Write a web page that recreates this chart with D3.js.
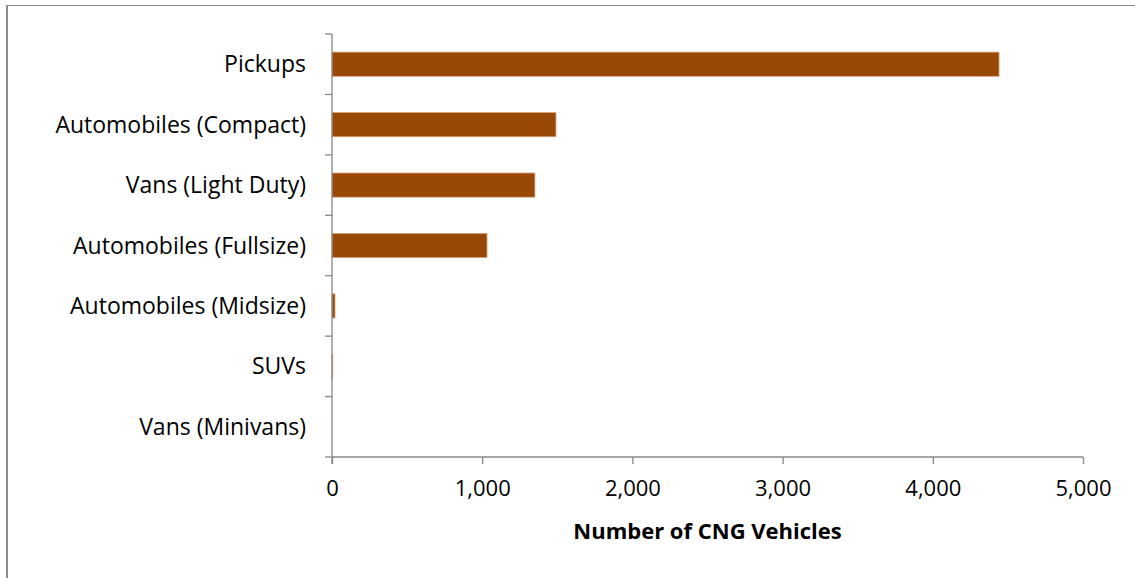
<!DOCTYPE html>
<html>
<head>
<meta charset="utf-8">
<script src="https://cdn.jsdelivr.net/npm/d3@7"></script>
<style>
  body { margin: 0; background: #fff; }
  text { font-family: "Open Sans", sans-serif; }
</style>
</head>
<body>
<div id="chart"></div>
<script>
// data
const categories = ["Pickups", "Automobiles (Compact)", "Vans (Light Duty)", "Automobiles (Fullsize)",
                    "Automobiles (Midsize)", "SUVs", "Vans (Minivans)"];
const vehicles = [4441, 1491, 1351, 1032, 20, 5, 0];
const xTicks = [0, 1000, 2000, 3000, 4000, 5000];

const svgWidth = 1135;
const svgHeight = 578;

const margin = { top: 34, right: 52, bottom: 121, left: 332 };
const chartWidth = svgWidth - margin.left - margin.right;
const chartHeight = svgHeight - margin.top - margin.bottom;

const svg = d3.select("#chart")
  .append("svg")
  .attr("width", svgWidth)
  .attr("height", svgHeight);

// outer frame (only left and top visible in the picture)
svg.append("path")
  .attr("d", `M7,${svgHeight} V5.5 H${svgWidth}`)
  .attr("fill", "none")
  .attr("stroke", "#8c8c8c")
  .attr("stroke-width", 1.2);
svg.append("line")
  .attr("x1", 7).attr("x2", 7).attr("y1", 5).attr("y2", svgHeight)
  .attr("stroke", "#8c8c8c").attr("stroke-width", 2);

const chartGroup = svg.append("g")
  .attr("transform", `translate(${margin.left},${margin.top})`);

const xScale = d3.scaleLinear()
  .domain([0, 5000])
  .range([0, chartWidth]);

const yScale = d3.scaleBand()
  .domain(categories)
  .range([0, chartHeight])
  .paddingInner(0.6)
  .paddingOuter(0.3);

// bars
chartGroup.append("g")
  .selectAll("rect")
  .data(vehicles)
  .enter()
  .append("rect")
  .attr("x", 0)
  .attr("y", (d, i) => yScale(categories[i]))
  .attr("width", d => xScale(d))
  .attr("height", yScale.bandwidth())
  .attr("fill", "#984807")
  .attr("stroke", d => d > 0 ? "#d8a27a" : "none")
  .attr("stroke-width", 0.8);

// x axis
const bottomAxis = d3.axisBottom(xScale)
  .tickValues(xTicks)
  .tickFormat(d3.format(","))
  .tickSize(7)
  .tickPadding(16);

const xAxisG = chartGroup.append("g")
  .attr("transform", `translate(0, ${chartHeight})`)
  .call(bottomAxis);
xAxisG.select(".domain").attr("stroke", "#868686").attr("stroke-width", 1.3)
  .attr("d", `M0,0H${chartWidth}`);
xAxisG.selectAll(".tick line").attr("stroke", "#868686").attr("stroke-width", 1.3);
xAxisG.selectAll(".tick text")
  .attr("font-size", "22px")
  .attr("fill", "#000")
  .style("font-family", "'Open Sans', sans-serif");

// y axis: ticks sit on band boundaries
const leftAxisG = chartGroup.append("g");
leftAxisG.append("line")
  .attr("x1", 0).attr("x2", 0).attr("y1", 0).attr("y2", chartHeight + 7)
  .attr("stroke", "#868686").attr("stroke-width", 1.3);
leftAxisG.selectAll("line.tick")
  .data(d3.range(categories.length + 1))
  .enter()
  .append("line")
  .attr("class", "tick")
  .attr("x1", -7).attr("x2", 0)
  .attr("y1", i => i * chartHeight / categories.length)
  .attr("y2", i => i * chartHeight / categories.length)
  .attr("stroke", "#868686").attr("stroke-width", 1.3);

leftAxisG.selectAll("text")
  .data(categories)
  .enter()
  .append("text")
  .attr("x", -26)
  .attr("y", d => yScale(d) + yScale.bandwidth() / 2)
  .attr("dy", "0.35em")
  .attr("text-anchor", "end")
  .attr("font-size", "23px")
  .attr("fill", "#000")
  .text(d => d);

// x label
chartGroup.append("text")
  .attr("x", chartWidth / 2)
  .attr("y", chartHeight + 82)
  .attr("text-anchor", "middle")
  .attr("font-size", "22px")
  .attr("font-weight", "bold")
  .attr("fill", "#000")
  .text("Number of CNG Vehicles");
</script>
</body>
</html>
